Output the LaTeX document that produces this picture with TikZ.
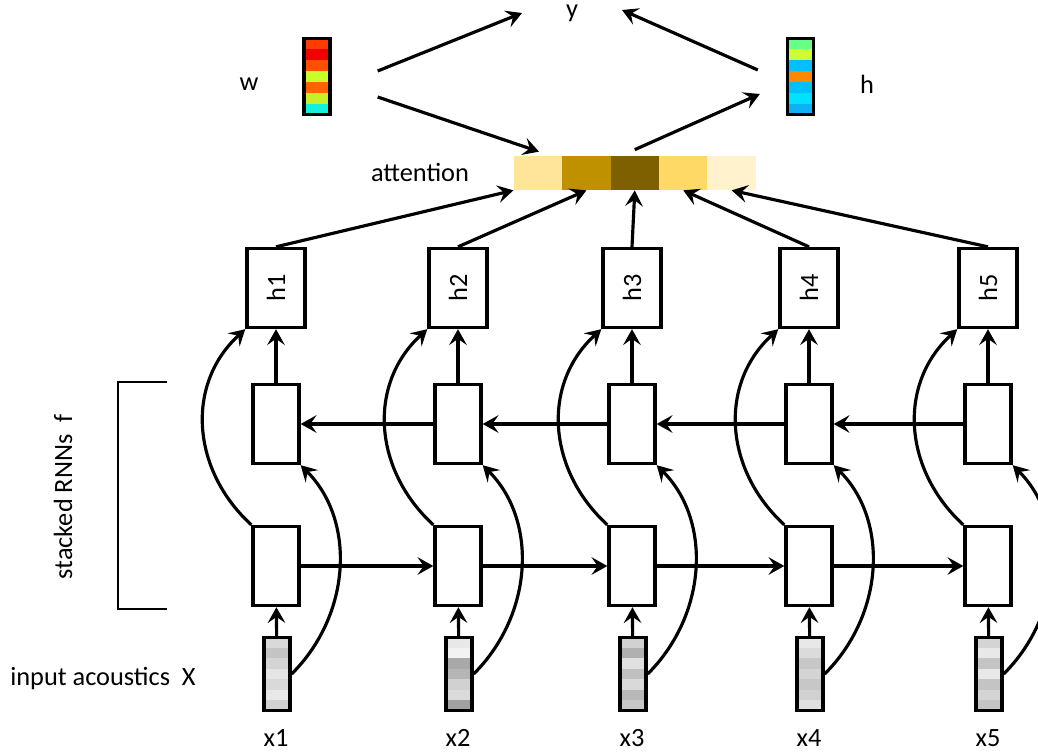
\documentclass[tikz,border=0pt]{standalone}
\usepackage{fontspec}
\setmainfont{Carlito}
\usetikzlibrary{arrows.meta,calc}

\definecolor{attA}{HTML}{FFE599}
\definecolor{attB}{HTML}{BF9000}
\definecolor{attC}{HTML}{7F6000}
\definecolor{attD}{HTML}{FFD966}
\definecolor{attE}{HTML}{FFF2CC}
% w vector
\definecolor{wA}{HTML}{FF3C00}
\definecolor{wB}{HTML}{F00000}
\definecolor{wC}{HTML}{FF5000}
\definecolor{wD}{HTML}{C8FF28}
\definecolor{wE}{HTML}{FF6400}
\definecolor{wF}{HTML}{C8F028}
\definecolor{wG}{HTML}{14F0DC}
% h vector
\definecolor{hA}{HTML}{66FF88}
\definecolor{hB}{HTML}{CCFF33}
\definecolor{hC}{HTML}{00C0FF}
\definecolor{hD}{HTML}{FF8800}
\definecolor{hE}{HTML}{00C0FF}
\definecolor{hF}{HTML}{00E0FF}
\definecolor{hG}{HTML}{10B0F8}

\tikzset{
  box/.style={draw, line width=1.9pt, fill=white, inner sep=0pt},
  hbox/.style={box, minimum width=1.16cm, minimum height=1.58cm},
  rnn/.style={box, minimum width=0.92cm, minimum height=1.58cm},
  bands/.style={path picture={
      \foreach \bandcol [count=\i] in {#1}
        \fill[\bandcol] ($(path picture bounding box.north west)!{(\i-1)/7}!(path picture bounding box.south west)$)
          rectangle ($(path picture bounding box.north east)!{\i/7}!(path picture bounding box.south east)$);}},
  inbar/.style={draw, line width=1.9pt, minimum width=0.52cm, minimum height=1.46cm, inner sep=0pt},
  vecbar/.style={draw, line width=1.9pt, minimum width=0.52cm, minimum height=1.52cm, inner sep=0pt},
  attcell/.style={minimum width=0.968cm, minimum height=0.68cm, inner sep=0pt},
  lbl/.style={inner sep=0pt},
  arr/.style={line width=1.8pt, -{Stealth[length=9pt,width=10pt,inset=3.5pt]}},
  bracket/.style={line width=1.2pt},
}

\begin{document}
\begin{tikzpicture}[x=0.02cm, y=-0.02cm, font=\fontsize{15}{18}\selectfont]
    \useasboundingbox (0,0) rectangle (1038,753);
    \clip (0,0) rectangle (1038,753);

    % columns: output, two rnn layers, label
    \foreach \cx [count=\k] in {276,458,632,809,988} {
      \node[hbox] (h\k) at (\cx,288) {\rotatebox{90}{h\k}};
      \node[rnn] (u\k) at (\cx,424) {};
      \node[rnn] (l\k) at (\cx,566) {};
      \node[lbl] (xl\k) at (\cx,738) {x\k};
    }

    % input frames
    \node[inbar, bands={black!15,black!23,black!17,black!10,black!15,black!9,black!18}] (x1) at (277,674) {};
    \node[inbar, bands={black!9,black!5,black!34,black!29,black!18,black!14,black!37}] (x2) at (459,674) {};
    \node[inbar, bands={black!18,black!31,black!12,black!25,black!15,black!28,black!22}] (x3) at (633,674) {};
    \node[inbar, bands={black!9,black!14,black!22,black!17,black!22,black!18,black!12}] (x4) at (810,674) {};
    \node[inbar, bands={black!17,black!9,black!23,black!9,black!23,black!17,black!23}] (x5) at (989,674) {};

    % attention weights
    \foreach \c [count=\k] in {attA,attB,attC,attD,attE}
      \node[attcell, fill=\c] (a\k) at ({489.6+48.4*\k},173) {};

    \node[vecbar, bands={wA,wB,wC,wD,wE,wF,wG}] (w) at (317,76.5) {};
    \node[vecbar, bands={hA,hB,hC,hD,hE,hF,hG}] (hv) at (800.5,76.5) {};

    \node[lbl] (wlabel) at (249,84) {w};
    \node[lbl] (hlabel) at (867,84) {h};
    \node[lbl, anchor=base] (y) at (572,18) {y};
    \node[lbl] (attlabel) at (420,172) {attention};
    \node[lbl, rotate=90] (stacklabel) at (63,497) {stacked RNNs~~f};
    \node[lbl, anchor=west] (inlabel) at (10,679) {input acoustics~~X};

    \draw[bracket] (167,382) -- (118,382) -- (118,609) -- (167,609);

    \foreach \k in {1,...,5} {
      \draw[arr] (x\k) -- (l\k);
      \draw[arr] (u\k) -- (h\k);
      \draw[arr] (l\k.north west) .. controls +(-60,-55) and +(-60,55) .. (h\k.south west);
      \draw[arr] (x\k.east) .. controls +(60,-60) and +(55,55) .. (u\k.south east);
    }
    \foreach \k [evaluate=\k as \n using int(\k+1)] in {1,...,4} {
      \draw[arr] (l\k) -- (l\n);
      \draw[arr] (u\n) -- (u\k);
    }

    \draw[arr] (h1.north) -- (a1.south west);
    \draw[arr] (h2.north) -- (a2.south);
    \draw[arr] (h3.north) -- (a3.south);
    \draw[arr] (h4.north) -- (a4.south);
    \draw[arr] (h5.north) -- (a5.south);

    \draw[arr] ([shift={(46,-5.5)}]w.east) -- ([shift={(-50,-5)}]y.base);
    \draw[arr] ([shift={(46,20.5)}]w.east) -- ([shift={(1,-4)}]a1.north);
    \draw[arr] ([shift={(-28,-6.5)}]hv.west) -- ([shift={(50,-8)}]y.base);
    \draw[arr] ([shift={(0,-6)}]a3.north) -- ([shift={(-26,17.5)}]hv.west);
\end{tikzpicture}
\end{document}
